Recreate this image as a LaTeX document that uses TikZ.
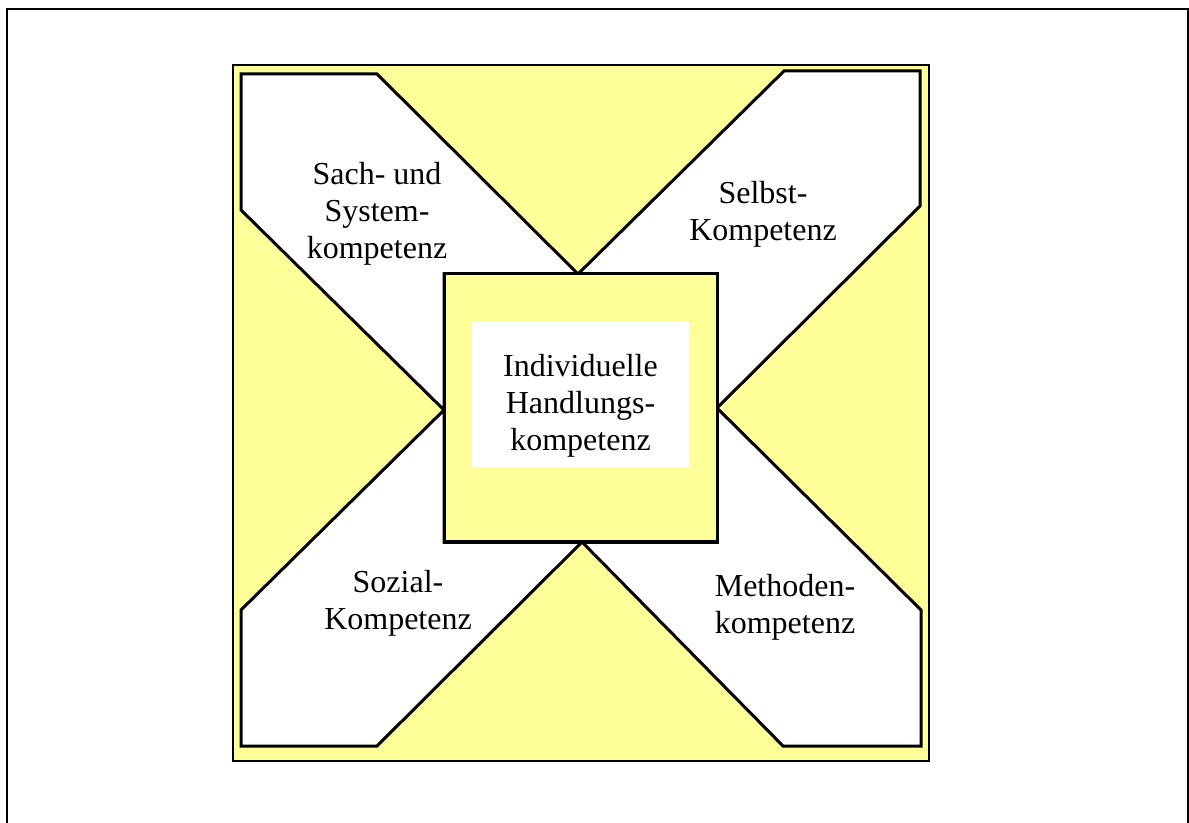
\documentclass[tikz,border=0pt]{standalone}
\usepackage{fontspec}
\setmainfont{Liberation Serif}
\usetikzlibrary{positioning}
\definecolor{pale}{RGB}{255,255,153}
\tikzset{
  comp/.style={draw=black,fill=white,line width=1.5pt,line join=miter},
  core/.style={draw=black,fill=pale,line width=1.5pt},
  lbl/.style={font=\fontsize{16}{18.5}\selectfont,align=center,inner sep=0pt,anchor=base},
}
\begin{document}
\begin{tikzpicture}[x=0.5pt,y=-0.5pt]
  \useasboundingbox (0,0) rectangle (1189,823);
  % frame
  \draw[line width=1pt] (6.5,823) -- (6.5,9.5) -- (1187.5,9.5) -- (1187.5,823);
  % yellow square
  \draw[fill=pale,line width=1pt] (232.7,65) rectangle (928.7,761);
  % four competences
  \draw[comp] (241,74) -- (377,74) -- (578,274) -- (444,274) -- (444,410) -- (241,210) -- cycle;
  \draw[comp] (784,71) -- (920,71) -- (920,206) -- (717,408) -- (717,274) -- (578,274) -- cycle;
  \draw[comp] (241,610) -- (444,410) -- (444,542) -- (582,542) -- (377,746) -- (241,746) -- cycle;
  \draw[comp] (582,542) -- (717,542) -- (717,408) -- (921,610) -- (921,746) -- (783,746) -- cycle;
  % centre
  \draw[core] (444,274) rectangle (717,542);
  \fill[white] (472,322) rectangle (689,467);
  % labels (anchored at the last baseline)
  \node[lbl] (sach) at (377,259) {Sach- und\\System-\\kompetenz};
  \node[lbl] (selbst) at (763,241) {Selbst-\\Kompetenz};
  \node[lbl] (sozial) at (398,629) {Sozial-\\Kompetenz};
  \node[lbl] (methode) at (785,633) {Methoden-\\kompetenz};
  \node[lbl] (hand) at (580.5,451) {Individuelle\\Handlungs-\\kompetenz};
\end{tikzpicture}
\end{document}
